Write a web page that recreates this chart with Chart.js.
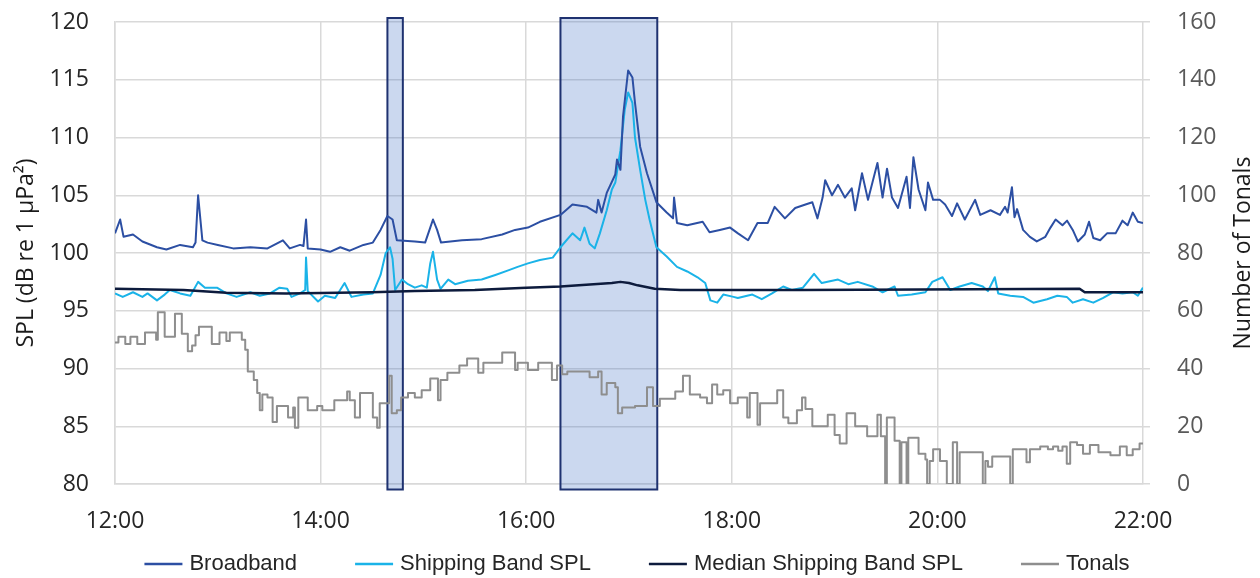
<!DOCTYPE html>
<html>
<head>
<meta charset="utf-8">
<script src="https://cdn.jsdelivr.net/npm/chart.js@4.4.1/dist/chart.umd.min.js"></script>
<style>
  html, body { margin: 0; padding: 0; background: #fff; }
</style>
</head>
<body>
<canvas id="spl-chart" width="1260" height="578"></canvas>
<script>
// minutes after 12:00
const xTicks = [0, 120, 240, 360, 480, 600];

const broadbandTime = [0, 3, 5, 10.5, 16, 24.5, 30, 38, 45.5, 47, 48.5, 51, 54, 60, 69, 79, 89, 98, 102, 108,
  110, 111.5, 112.5, 120, 125.5, 131.5, 137, 145, 150.5, 155, 159, 162, 164.5, 175, 181, 184, 185.6, 188, 190.3, 202.5,
  214, 226, 233.5, 241, 248, 260, 267, 275.5, 281, 282, 284, 287, 292, 293, 295, 296.5, 299.5, 302, 303.5, 306.5,
  310.5, 316, 322, 325.7, 326.3, 328, 334, 343, 347, 353, 359, 363.6, 369.5, 375, 381, 385, 391, 397, 403, 407,
  410, 413, 414.5, 418.5, 422, 426, 430, 432, 436, 439.5, 445, 448, 450.6, 453.5, 457, 462, 464, 466, 469, 473,
  474.5, 477.5, 481.5, 484.5, 488.5, 491.5, 496, 502, 505, 511, 516.5, 519.5, 521, 523.5, 525, 526.5, 530, 534, 538, 543,
  546, 549, 553, 555.7, 559, 562, 566, 568.5, 571, 575, 579, 584, 588, 591, 594, 597, 600];
const broadbandValues = [101.7, 102.9, 101.4, 101.6, 101.0, 100.5, 100.3, 100.7, 100.5, 100.9, 105.0, 101.1, 100.9, 100.7, 100.4, 100.5, 100.4, 101.1, 100.4, 100.7,
  100.6, 102.9, 100.4, 100.3, 100.1, 100.5, 100.2, 100.7, 100.9, 102.0, 103.2, 102.9, 101.1, 101.0, 100.9, 102.2, 102.9, 102.0, 100.9, 101.1,
  101.2, 101.6, 102.0, 102.2, 102.7, 103.3, 104.2, 104.0, 103.5, 104.6, 103.5, 105.2, 106.8, 108.1, 107.2, 111.8, 115.8, 115.2, 113.0, 109.2,
  106.9, 104.4, 103.5, 103.0, 104.8, 102.6, 102.4, 102.7, 101.8, 102.0, 102.2, 101.7, 101.1, 102.6, 102.6, 104.0, 103.0, 103.9, 104.2, 104.4,
  103.0, 104.8, 106.3, 105.0, 105.9, 104.8, 105.6, 103.7, 106.9, 104.6, 107.8, 104.8, 107.3, 104.8, 103.9, 106.6, 103.9, 108.3, 105.5, 103.7,
  106.1, 104.6, 104.6, 104.2, 103.2, 104.3, 102.9, 104.6, 103.3, 103.7, 103.3, 104.0, 103.5, 105.7, 103.1, 103.8, 102.0, 101.4, 101.0, 101.4,
  102.2, 102.9, 102.4, 102.8, 102.0, 101.0, 101.6, 102.7, 101.3, 101.1, 101.7, 101.7, 102.8, 102.4, 103.5, 102.7, 102.6];

const shippingTime = [0, 4.5, 10.5, 16, 19, 24.5, 29, 32, 38, 44, 48.5, 52.5, 59.5, 65, 71, 79, 84.5, 90.5, 96, 100.5,
  103, 108, 111, 111.5, 112.5, 118.5, 122.5, 128.5, 134, 138, 145, 150.5, 155, 158, 160.5, 162, 163.5, 167.5, 171, 175,
  179, 182, 184, 185.6, 188, 190, 194.5, 198.5, 206, 214, 222, 229.5, 235, 241, 248, 255.5, 260, 267, 271.5, 274,
  277, 280, 283, 287, 290, 292, 295, 297.5, 299.5, 302, 303.5, 306.5, 309.5, 312, 316, 322, 328, 334, 340, 344.5,
  347.5, 351.5, 355, 361, 363.5, 372, 377.5, 383.5, 390, 395, 401.5, 408, 412.5, 422, 428, 433.5, 442, 448, 455, 457,
  465, 473, 477, 483, 487.5, 493, 500, 506.5, 509.5, 513.5, 515.5, 522.5, 530, 536, 544, 550, 555.5, 559, 565, 571,
  576.5, 582.5, 588, 594, 597, 600];
const shippingValues = [96.5, 96.2, 96.6, 96.2, 96.5, 95.9, 96.4, 96.8, 96.5, 96.3, 97.5, 97.0, 97.0, 96.5, 96.2, 96.6, 96.3, 96.5, 97.0, 96.9,
  96.2, 96.5, 96.8, 99.6, 96.7, 95.8, 96.3, 96.1, 97.4, 96.2, 96.4, 96.5, 98.1, 100.0, 100.5, 99.5, 96.8, 97.7, 97.3, 97.0,
  97.2, 97.0, 99.1, 100.1, 97.7, 96.9, 97.7, 97.3, 97.6, 97.7, 98.1, 98.5, 98.8, 99.1, 99.4, 99.6, 100.5, 101.7, 101.1, 102.2,
  100.8, 100.4, 101.7, 103.7, 105.5, 106.1, 108.9, 112.4, 113.9, 113.0, 110.0, 107.2, 104.6, 102.9, 100.5, 99.7, 98.8, 98.4, 97.9, 97.4,
  95.9, 95.7, 96.4, 96.2, 96.1, 96.4, 96.0, 96.5, 97.1, 96.8, 97.0, 98.2, 97.4, 97.7, 97.3, 97.5, 97.1, 96.6, 97.1, 96.3,
  96.4, 96.6, 97.5, 97.9, 96.8, 97.1, 97.4, 97.1, 96.7, 97.9, 96.5, 96.3, 96.2, 95.7, 96.0, 96.3, 96.2, 95.7, 96.0, 95.7,
  96.1, 96.6, 96.5, 96.6, 96.3, 97.0];

const medianTime = [0, 40, 65, 100, 150, 175, 210, 240, 260, 290, 295, 300, 305, 315, 330, 400, 470, 563, 566, 600];
const medianValues = [96.9, 96.8, 96.55, 96.5, 96.6, 96.7, 96.8, 97.0, 97.1, 97.4, 97.5, 97.4, 97.2, 96.9, 96.8, 96.8, 96.85, 96.9, 96.6, 96.6];

const tonalsTime = [0, 2, 6, 9, 13, 17.5, 24, 25, 29, 35, 39, 42.5, 45, 47, 49, 56.5, 61, 65, 67, 74,
  76, 77.5, 81, 83, 84.5, 86, 89, 92, 94.5, 101, 104, 105, 107, 112.5, 118, 121, 128, 135.5, 137, 140,
  143, 150.5, 153, 154.5, 160, 161.5, 164.5, 167, 171, 175, 179, 184, 188.5, 190, 194, 201, 205.5, 212, 215, 226,
  233.5, 235, 241, 247, 255, 258, 261, 264, 277, 282, 284, 287, 292, 293.5, 296, 303.5, 310.5, 314, 318, 327,
  331.5, 335.5, 341.5, 345.5, 348.5, 351.5, 355, 359, 363.5, 369, 370.5, 375, 376.5, 386.5, 390, 393, 398, 401, 403, 407,
  416, 420, 423, 427, 432, 439, 445, 447, 449.5, 450.5, 455, 458, 459, 462, 463, 469, 473, 474, 475.5, 477.5,
  481.5, 485.5, 489, 491.5, 493, 506.5, 508, 509.5, 512, 522.5, 524, 532, 534, 540, 544.5, 547.5, 550.5, 553, 555.5, 557.5,
  561.5, 565, 569, 574, 581, 586.5, 590.5, 594, 598, 600];
const tonalsValues = [49, 51, 48.5, 51, 48.5, 52.5, 50, 59.5, 51, 59, 52, 46, 48, 51.5, 54.5, 48.5, 52.5, 49.5, 52.5, 50,
  46.5, 39, 36, 31.5, 25.5, 31, 30, 21.5, 27, 23, 26.5, 19.5, 30, 25.5, 27, 25.5, 29, 32, 29, 23,
  31.5, 23, 19.5, 28, 37.5, 24.5, 25.5, 30, 31.5, 30, 32.5, 36.5, 29, 36, 38.5, 41, 43.5, 38.5, 42, 45.5,
  39.5, 42, 39.5, 42, 36, 41, 38, 39, 37, 39, 31, 35, 33.5, 24.5, 26.5, 27, 33.5, 27, 29.5, 32,
  37.5, 31, 30, 28, 34.5, 31, 32.5, 28, 30, 23, 31.5, 20.5, 28, 32.5, 23, 21, 25.5, 30, 26, 20,
  24, 17, 14, 24.5, 20, 16.5, 24, 16.5, 0, 23, 15, 0, 14.5, 0, 16, 10.5, 8.5, 0, 8, 12,
  8, 0, 14.5, 0, 11, 0, 8, 6, 9.5, 0, 12, 7.5, 12, 13, 12, 13, 11.5, 13, 7, 14.5,
  13.5, 10.5, 13.5, 11, 10, 13, 10, 12, 14, 14];

// highlighted periods (minutes after 12:00)
const boxStart = [159, 260];
const boxEnd = [168, 316.5];

const toPoints = (times, values) => times.map((t, i) => ({ x: t, y: values[i] }));

const shadeBoxes = {
    id: 'shadeBoxes',
    beforeDatasetsDraw(chart) {
        const { ctx, chartArea, scales } = chart;
        const top = chartArea.top - 4;
        const bottom = chartArea.bottom + 5.5;
        ctx.save();
        boxStart.forEach((start, i) => {
            const left = scales.x.getPixelForValue(start);
            const right = scales.x.getPixelForValue(boxEnd[i]);
            ctx.fillStyle = 'rgba(68, 114, 196, 0.28)';
            ctx.fillRect(left, top, right - left, bottom - top);
            ctx.strokeStyle = '#1f3270';
            ctx.lineWidth = 2;
            ctx.strokeRect(left, top, right - left, bottom - top);
        });
        ctx.restore();
    }
};

const axisTitles = {
    id: 'axisTitles',
    afterDraw(chart) {
        const { ctx, chartArea } = chart;
        const midY = (chartArea.top + chartArea.bottom) / 2;
        ctx.save();
        ctx.fillStyle = '#1a1a1a';
        ctx.font = "23px 'Open Sans'";
        ctx.textAlign = 'center';
        ctx.textBaseline = 'middle';
        [[26, 'SPL (dB re 1 µPa²)'], [1243, 'Number of Tonals']].forEach(([x, text]) => {
            ctx.save();
            ctx.translate(x, midY);
            ctx.rotate(-Math.PI / 2);
            ctx.fillText(text, 0, 0);
            ctx.restore();
        });
        ctx.restore();
    }
};

// legend drawn along the bottom, one short line per series
const bottomLegend = {
    id: 'bottomLegend',
    afterDraw(chart) {
        const { ctx } = chart;
        const lineLen = 38, textGap = 7, itemGap = 58, centerX = 637, y = 564;
        ctx.save();
        ctx.font = "22px 'Liberation Sans', Arial, sans-serif";
        const items = chart.data.datasets.map(ds => ({
            text: ds.label,
            color: ds.borderColor,
            width: lineLen + textGap + ctx.measureText(ds.label).width
        }));
        const total = items.reduce((sum, it) => sum + it.width, 0) + itemGap * (items.length - 1);
        let x = centerX - total / 2;
        items.forEach(it => {
            ctx.strokeStyle = it.color;
            ctx.lineWidth = 2.5;
            ctx.beginPath();
            ctx.moveTo(x, y);
            ctx.lineTo(x + lineLen, y);
            ctx.stroke();
            ctx.fillStyle = '#262626';
            ctx.textAlign = 'left';
            ctx.textBaseline = 'middle';
            ctx.fillText(it.text, x + lineLen + textGap, y);
            x += it.width + itemGap;
        });
        ctx.restore();
    }
};

// keep the tick label overflow from pushing the plot area down
const noLabelOverflow = scale => {
    scale.paddingTop = 0;
    scale.paddingBottom = 0;
};

Chart.defaults.font.family = "'Open Sans', sans-serif";

const lineDefaults = { pointRadius: 0, tension: 0, borderJoinStyle: 'round', fill: false };

new Chart(document.getElementById('spl-chart').getContext('2d'), {
    type: 'line',
    data: {
        datasets: [
            { ...lineDefaults, label: 'Broadband', data: toPoints(broadbandTime, broadbandValues), borderColor: '#2c4fa3', borderWidth: 2, order: 1, yAxisID: 'y' },
            { ...lineDefaults, label: 'Shipping Band SPL', data: toPoints(shippingTime, shippingValues), borderColor: '#1ab3e8', borderWidth: 2, order: 2, yAxisID: 'y' },
            { ...lineDefaults, label: 'Median Shipping Band SPL', data: toPoints(medianTime, medianValues), borderColor: '#0d1b3d', borderWidth: 2.5, order: 0, yAxisID: 'y' },
            { ...lineDefaults, label: 'Tonals', data: toPoints(tonalsTime, tonalsValues), borderColor: '#8e8e8e', borderWidth: 2, stepped: true, order: 3, yAxisID: 'y2' }
        ]
    },
    options: {
        responsive: false,
        animation: false,
        layout: { padding: { top: 22, left: 0, right: 0, bottom: 0 } },
        scales: {
            x: {
                type: 'linear',
                min: 0,
                max: 600,
                afterBuildTicks: scale => { scale.ticks = xTicks.map(v => ({ value: v })); },
                afterFit: scale => { scale.height = 94; },
                ticks: {
                    color: '#262626',
                    font: { size: 23 },
                    padding: 24,
                    maxRotation: 0,
                    callback: value => (12 + value / 60) + ':00'
                },
                grid: { color: '#d9d9d9', lineWidth: 1.5, drawTicks: false },
                border: { color: '#d9d9d9', width: 1.5 }
            },
            y: {
                position: 'left',
                min: 80,
                max: 120,
                afterFit: scale => { scale.width = 115; noLabelOverflow(scale); },
                ticks: { stepSize: 5, color: '#262626', font: { size: 23 }, padding: 26 },
                grid: { color: '#d9d9d9', lineWidth: 1.5, drawTicks: false },
                border: { color: '#d9d9d9', width: 1.5 }
            },
            y2: {
                position: 'right',
                min: 0,
                max: 160,
                afterFit: scale => { scale.width = 117; noLabelOverflow(scale); },
                ticks: { stepSize: 20, color: '#595959', font: { size: 23 }, padding: 27 },
                grid: { color: '#d9d9d9', lineWidth: 1.5, drawOnChartArea: false, drawTicks: true, tickLength: 7 },
                border: { display: false }
            }
        },
        plugins: {
            legend: { display: false },
            tooltip: { enabled: false }
        }
    },
    plugins: [shadeBoxes, axisTitles, bottomLegend]
});
</script>
</body>
</html>
